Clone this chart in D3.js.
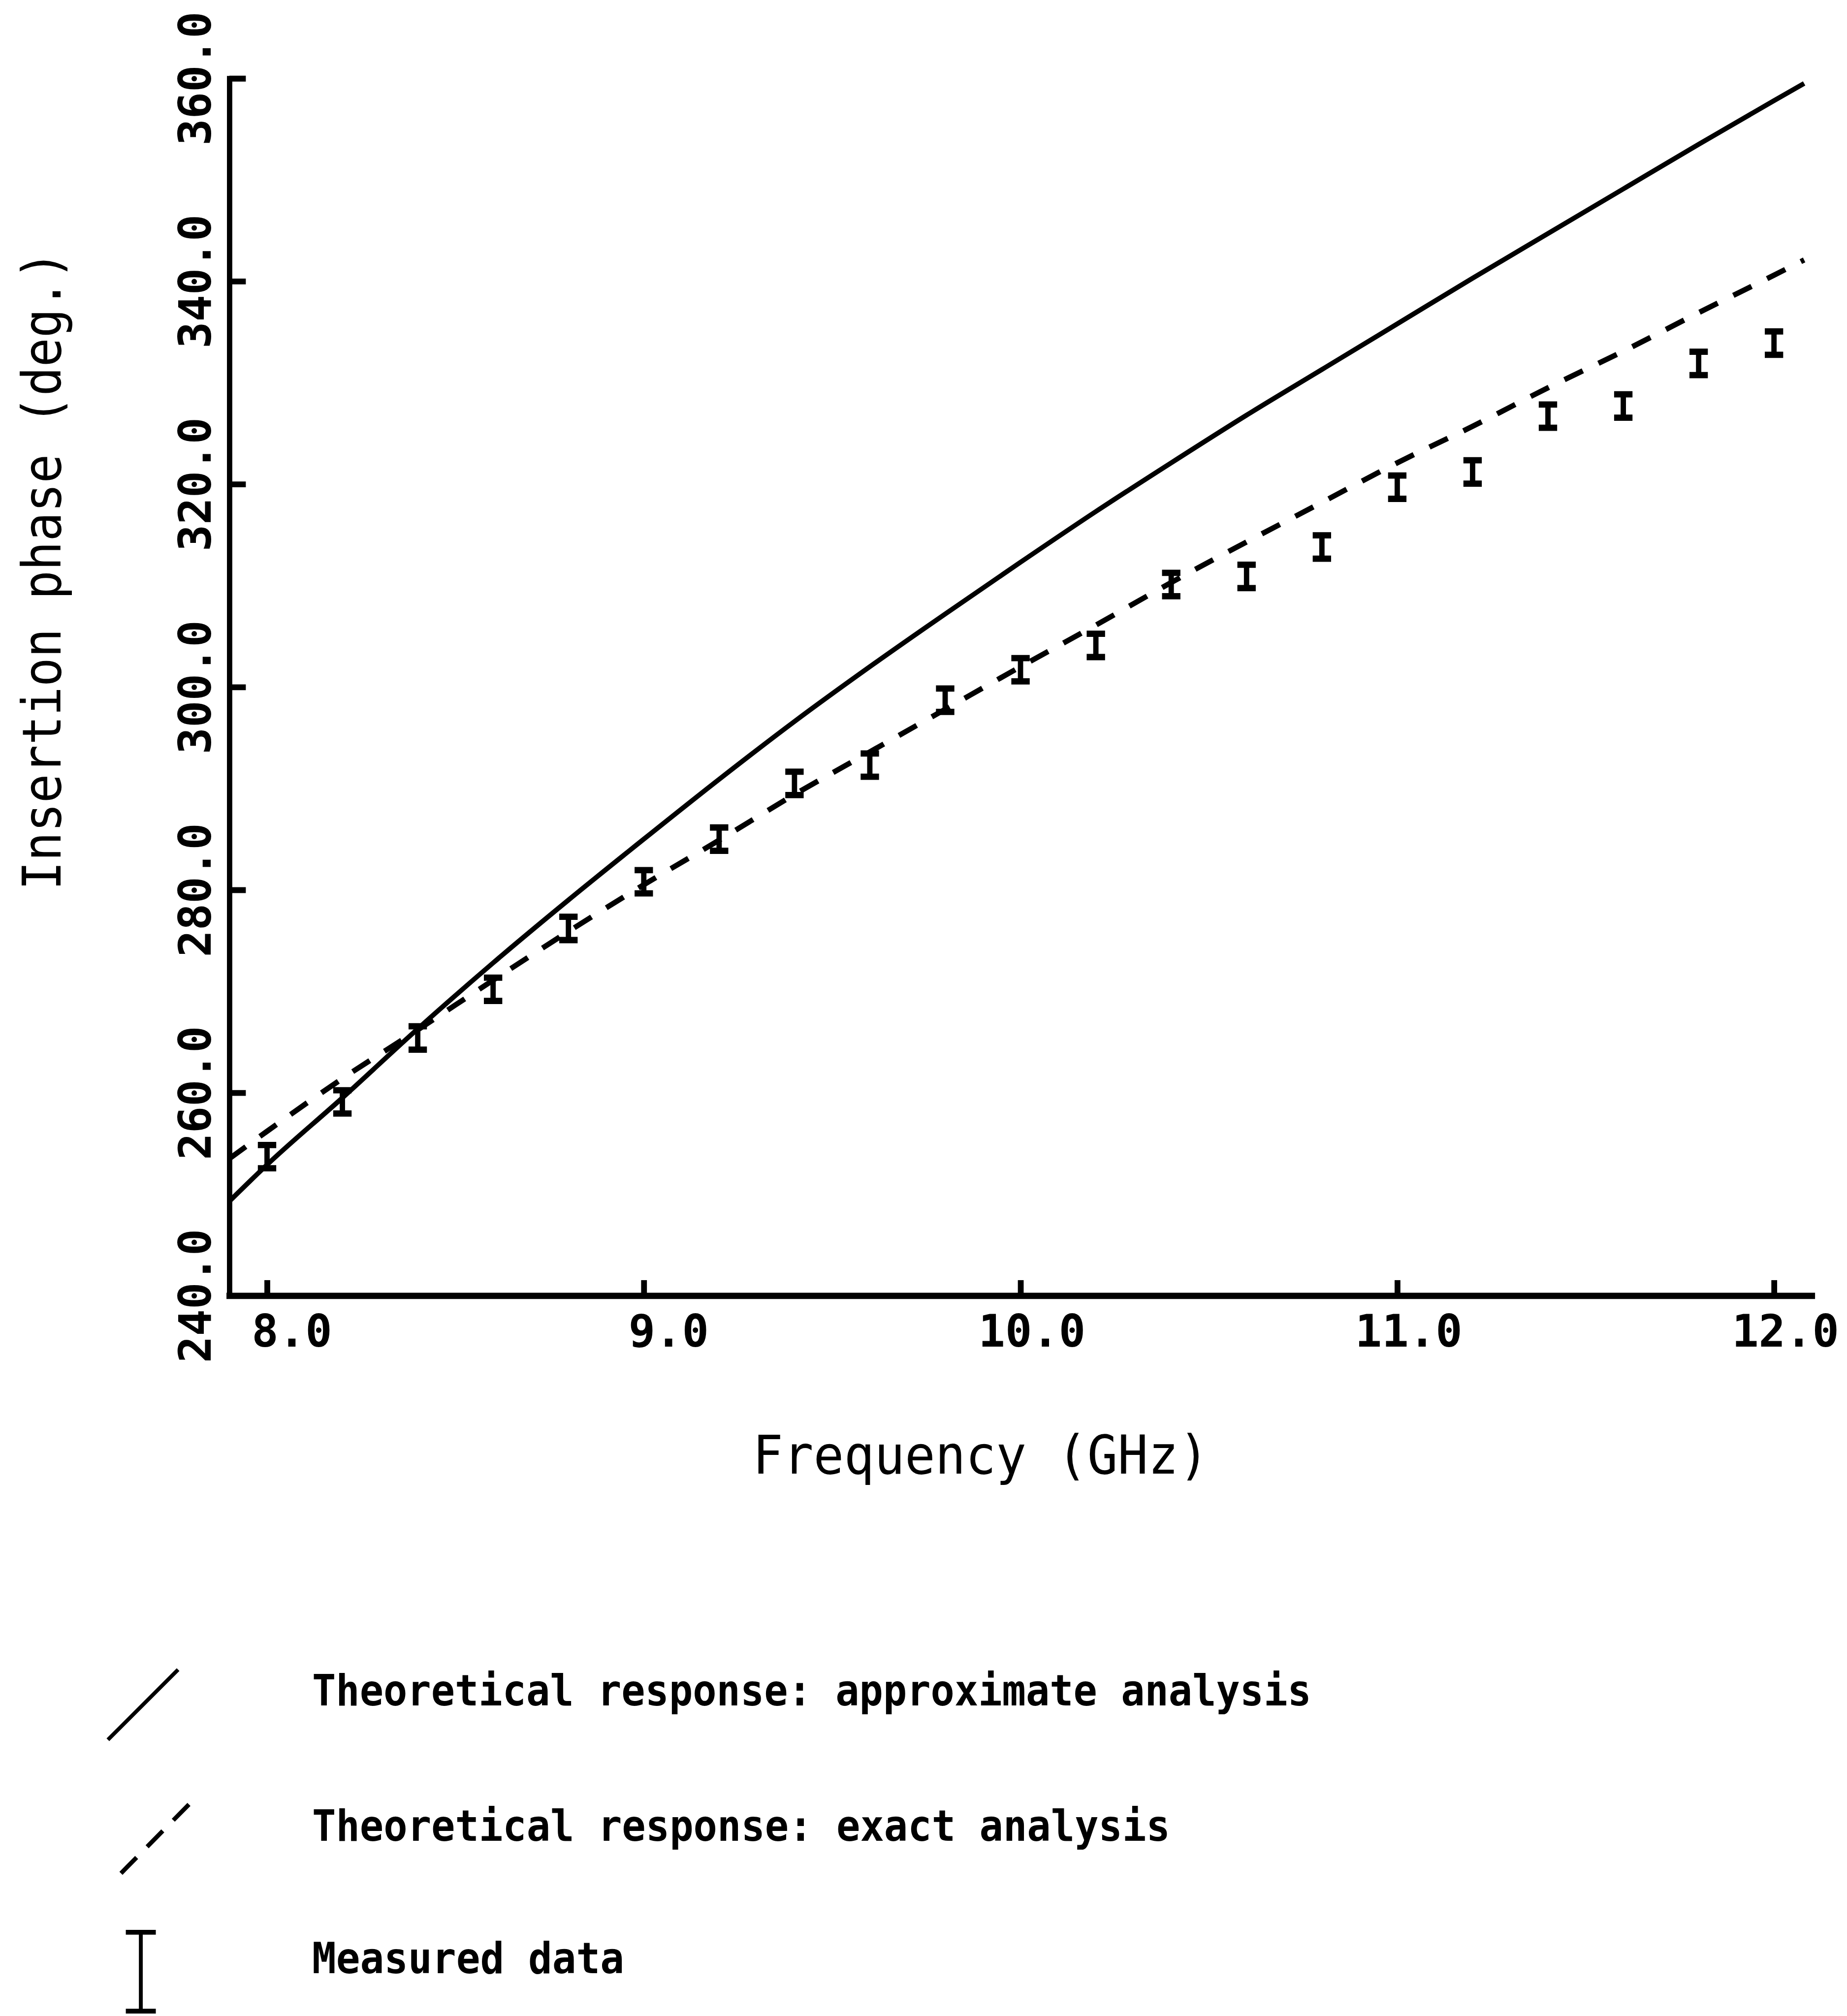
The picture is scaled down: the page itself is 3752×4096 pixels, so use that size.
<!DOCTYPE html>
<html>
<head>
<meta charset="utf-8">
<script src="https://cdn.jsdelivr.net/npm/d3@7/dist/d3.min.js"></script>
<style>
  html, body { margin: 0; padding: 0; background: #fff; }
  svg { display: block; }
</style>
</head>
<body>
<svg id="chart"></svg>
<script>
// Measured insertion phase (error bars)
const measuredFreq = [8.0, 8.2, 8.4, 8.6, 8.8, 9.0, 9.2, 9.4, 9.6, 9.8, 10.0,
  10.2, 10.4, 10.6, 10.8, 11.0, 11.2, 11.4, 11.6, 11.8, 12.0];
const measuredPhase = [253.7, 259.1, 265.4, 270.2, 276.2, 280.8, 285.0, 290.5,
  292.3, 298.7, 301.7, 304.1, 310.1, 310.9, 313.8, 319.7, 321.2, 326.7, 327.7,
  331.9, 333.9];
const measuredErr = 1.15; // half height of each bar, deg.

// Theoretical responses
const theoryFreq = [7.9, 8.0, 8.2, 8.4, 8.6, 8.8, 9.0, 9.2, 9.4, 9.6, 9.8, 10.0,
  10.2, 10.4, 10.6, 10.8, 11.0, 11.2, 11.4, 11.6, 11.8, 12.0, 12.08];
const approxPhase = [249.3, 252.9, 259.5, 266.3, 272.8, 279.0, 285.0, 290.9,
  296.6, 302.0, 307.2, 312.3, 317.3, 322.1, 326.8, 331.3, 335.8, 340.3, 344.7,
  349.1, 353.5, 357.8, 359.5];
const exactPhase = [253.5, 256.2, 261.4, 266.2, 271.1, 275.9, 280.5, 284.9,
  289.4, 293.6, 297.8, 302.0, 306.1, 310.3, 314.3, 318.2, 322.1, 325.7, 329.5,
  333.1, 336.9, 340.6, 342.1];

const xTicks = [8, 9, 10, 11, 12];
const yTicks = [240, 260, 280, 300, 320, 340, 360];

const legendLabels = [
  "Theoretical response: approximate analysis",
  "Theoretical response: exact analysis",
  "Measured data",
];

// Reference drawing size; the viewBox scales it into the window
const W = 3817;
const H = 4167;
const INK = "#000";
const MONO = "'DejaVu Sans Mono', 'Liberation Mono', monospace";

const svg = d3
  .select("#chart")
  .attr("viewBox", `0 0 ${W} ${H}`)
  .attr("width", 3752)
  .attr("height", 4096);

svg.append("rect").attr("width", W).attr("height", H).attr("fill", "#fff");

const x = d3.scaleLinear().domain([7.9, 12.1]).range([474, 3744]);
const y = d3.scaleLinear().domain([240, 360]).range([2678, 162]);

// Y axis: ticks point inward, labels rotated
svg
  .append("g")
  .attr("transform", `translate(${x(7.9)},0)`)
  .call(
    d3
      .axisLeft(y)
      .tickValues(yTicks)
      .tickSize(-34)
      .tickSizeOuter(0)
      .tickFormat(d3.format(".1f")),
  )
  .call((a) =>
    a
      .select(".domain")
      .attr("stroke", INK)
      .attr("stroke-width", 11)
      .attr("stroke-linecap", "square"),
  )
  .call((a) => a.selectAll(".tick line").attr("stroke", INK).attr("stroke-width", 12))
  .call((a) =>
    a
      .selectAll(".tick text")
      .attr("x", null)
      .attr("dy", null)
      .attr("transform", "translate(-39,0) rotate(-90)")
      .attr("text-anchor", "middle")
      .attr("fill", INK)
      .attr("font-family", MONO)
      .attr("font-weight", "bold")
      .attr("font-size", 92)
      .style("font-variant-numeric", "slashed-zero"),
  );

// X axis
svg
  .append("g")
  .attr("transform", `translate(0,${y(240)})`)
  .call(
    d3
      .axisBottom(x)
      .tickValues(xTicks)
      .tickSize(-32)
      .tickSizeOuter(0)
      .tickFormat(d3.format(".1f")),
  )
  .call((a) =>
    a
      .select(".domain")
      .attr("stroke", INK)
      .attr("stroke-width", 13)
      .attr("stroke-linecap", "square"),
  )
  .call((a) => a.selectAll(".tick line").attr("stroke", INK).attr("stroke-width", 12))
  .call((a) =>
    a
      .selectAll(".tick text")
      .attr("x", 134)
      .attr("y", 105)
      .attr("dy", 0)
      .attr("text-anchor", "end")
      .attr("fill", INK)
      .attr("font-family", MONO)
      .attr("font-weight", "bold")
      .attr("font-size", 92)
      .style("font-variant-numeric", "slashed-zero"),
  );

// Axis titles
svg
  .append("text")
  .attr("transform", "translate(125,1179) rotate(-90)")
  .attr("text-anchor", "middle")
  .attr("font-family", MONO)
  .attr("font-size", 110)
  .attr("fill", INK)
  .attr("textLength", 1322)
  .attr("lengthAdjust", "spacingAndGlyphs")
  .text("Insertion phase (deg.)");

svg
  .append("text")
  .attr("x", 2027)
  .attr("y", 3046)
  .attr("text-anchor", "middle")
  .attr("font-family", MONO)
  .attr("font-size", 110)
  .attr("fill", INK)
  .attr("textLength", 943)
  .attr("lengthAdjust", "spacingAndGlyphs")
  .text("Frequency (GHz)");

// Theory curves
const line = d3
  .line()
  .x((d) => x(d[0]))
  .y((d) => y(d[1]))
  .curve(d3.curveMonotoneX);

svg
  .append("path")
  .datum(d3.zip(theoryFreq, approxPhase))
  .attr("fill", "none")
  .attr("stroke", INK)
  .attr("stroke-width", 10)
  .attr("stroke-linejoin", "round")
  .attr("d", line);

svg
  .append("path")
  .datum(d3.zip(theoryFreq, exactPhase))
  .attr("fill", "none")
  .attr("stroke", INK)
  .attr("stroke-width", 11)
  .attr("stroke-dasharray", "42,36")
  .attr("d", line);

// Measured error bars
const capW = 38;
const bars = svg
  .append("g")
  .selectAll("g")
  .data(d3.zip(measuredFreq, measuredPhase))
  .join("g");

bars
  .append("line")
  .attr("x1", (d) => x(d[0]))
  .attr("x2", (d) => x(d[0]))
  .attr("y1", (d) => y(d[1] - measuredErr))
  .attr("y2", (d) => y(d[1] + measuredErr))
  .attr("stroke", INK)
  .attr("stroke-width", 11);

for (const sign of [-1, 1]) {
  bars
    .append("line")
    .attr("x1", (d) => x(d[0]) - capW / 2)
    .attr("x2", (d) => x(d[0]) + capW / 2)
    .attr("y1", (d) => y(d[1] + sign * measuredErr))
    .attr("y2", (d) => y(d[1] + sign * measuredErr))
    .attr("stroke", INK)
    .attr("stroke-width", 13);
}

// Legend
const legendX = 645;
const legendBase = [3525, 3805, 4078];

svg
  .append("line")
  .attr("x1", 223).attr("y1", 3596)
  .attr("x2", 368).attr("y2", 3451)
  .attr("stroke", INK)
  .attr("stroke-width", 8);

svg
  .append("line")
  .attr("x1", 250).attr("y1", 3872)
  .attr("x2", 395).attr("y2", 3725)
  .attr("stroke", INK)
  .attr("stroke-width", 9)
  .attr("stroke-dasharray", "46,31");

const legI = svg.append("g").attr("stroke", INK);
legI.append("line").attr("x1", 291).attr("x2", 291).attr("y1", 3992).attr("y2", 4158).attr("stroke-width", 8);
legI.append("line").attr("x1", 260).attr("x2", 322).attr("y1", 3994).attr("y2", 3994).attr("stroke-width", 10);
legI.append("line").attr("x1", 260).attr("x2", 322).attr("y1", 4157).attr("y2", 4157).attr("stroke-width", 10);

const legendLen = [2065, 1773, 645];
svg
  .append("g")
  .selectAll("text")
  .data(legendLabels)
  .join("text")
  .attr("x", legendX)
  .attr("y", (d, i) => legendBase[i])
  .attr("font-family", MONO)
  .attr("font-weight", "bold")
  .attr("font-size", 88)
  .attr("fill", INK)
  .attr("textLength", (d, i) => legendLen[i])
  .attr("lengthAdjust", "spacingAndGlyphs")
  .text((d) => d);
</script>
</body>
</html>
